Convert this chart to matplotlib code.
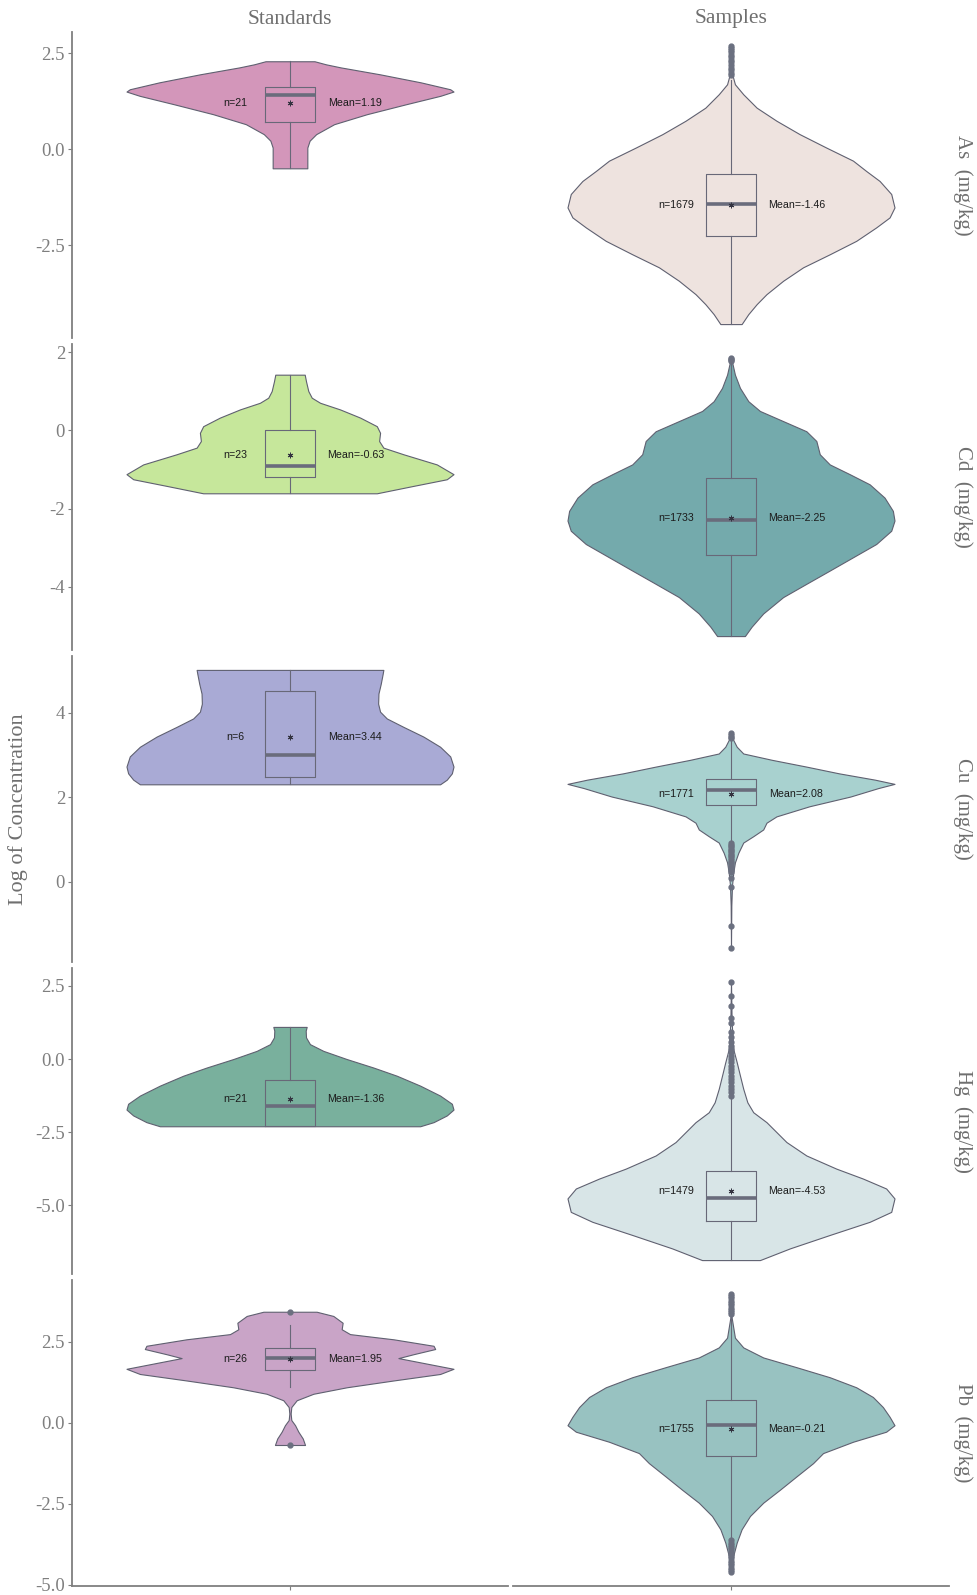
import matplotlib.pyplot as plt

# facet layout: rows are elements, columns are groups
elements = ["As", "Cd", "Cu", "Hg", "Pb"]
groups = ["Standards", "Samples"]
row_ticks = [[-2.5, 0.0, 2.5], [-4, -2, 0, 2], [0, 2, 4],
             [-5.0, -2.5, 0.0, 2.5], [-5.0, -2.5, 0.0, 2.5]]
tick_fmt = ["%.1f", "%d", "%d", "%.1f", "%.1f"]

std_colors = ["#d396ba", "#c6e79b", "#a9aad5", "#79b09d", "#c9a4c7"]
samp_colors = ["#eee3df", "#74aaac", "#a8d1cf", "#d8e5e7", "#98c2c1"]

# violin outlines: log value and relative half width (1 = widest point)
as_std_y = [2.29, 2.21, 2.13, 1.95, 1.74, 1.56, 1.50, 1.39, 1.17, 0.91, 0.65, 0.39, 0.22, 0.04, -0.22, -0.50]
as_std_w = [0.15, 0.22, 0.31, 0.55, 0.80, 0.98, 1.00, 0.92, 0.71, 0.47, 0.27, 0.16, 0.12, 0.106, 0.106, 0.106]
as_smp_y = [2.69, 2.20, 1.91, 1.69, 1.43, 1.08, 0.74, 0.39, 0.04, -0.30, -0.57, -0.83, -1.17, -1.52,
            -1.78, -2.04, -2.39, -2.74, -3.08, -3.43, -3.78, -4.04, -4.30, -4.56]
as_smp_w = [0.0, 0.005, 0.01, 0.024, 0.075, 0.157, 0.278, 0.42, 0.583, 0.746, 0.827, 0.909, 0.98, 1.00,
            0.97, 0.888, 0.766, 0.604, 0.441, 0.319, 0.217, 0.157, 0.106, 0.065]

cd_std_y = [1.43, 1.26, 1.01, 0.84, 0.71, 0.54, 0.33, 0.11, -0.06, -0.27, -0.44, -0.61, -0.87, -1.12, -1.25, -1.42, -1.61]
cd_std_w = [0.09, 0.098, 0.112, 0.133, 0.184, 0.306, 0.429, 0.531, 0.551, 0.545, 0.571, 0.694, 0.898, 1.00, 0.959, 0.755, 0.531]
cd_smp_y = [1.86, 1.69, 1.43, 1.09, 0.75, 0.50, 0.24, -0.02, -0.27, -0.61, -0.87, -1.12, -1.38, -1.72,
            -2.06, -2.31, -2.57, -2.91, -3.25, -3.59, -3.93, -4.27, -4.69, -5.03, -5.27]
cd_smp_w = [0.0, 0.01, 0.024, 0.055, 0.106, 0.177, 0.319, 0.461, 0.522, 0.543, 0.604, 0.726, 0.848, 0.939,
            0.99, 1.00, 0.98, 0.888, 0.746, 0.604, 0.461, 0.319, 0.197, 0.126, 0.085]

cu_std_y = [5.02, 4.93, 4.69, 4.46, 4.22, 4.03, 3.87, 3.67, 3.44, 3.20, 2.97, 2.73, 2.57, 2.42, 2.31]
cu_std_w = [0.571, 0.567, 0.555, 0.541, 0.539, 0.551, 0.592, 0.694, 0.816, 0.918, 0.98, 1.00, 0.99, 0.959, 0.918]
cu_smp_y = [3.52, 3.36, 3.20, 3.04, 2.89, 2.73, 2.57, 2.42, 2.32, 2.22, 2.02, 1.79, 1.55, 1.40, 1.24,
            1.08, 0.93, 0.69, 0.46, 0.22, -0.09, -0.56, -1.57]
cu_smp_w = [0.0, 0.014, 0.035, 0.075, 0.25, 0.46, 0.66, 0.88, 1.00, 0.90, 0.73, 0.48, 0.278, 0.217, 0.197,
            0.136, 0.075, 0.045, 0.024, 0.014, 0.006, 0.002, 0.0]

hg_std_y = [1.10, 0.97, 0.74, 0.51, 0.28, 0.00, -0.29, -0.57, -0.91, -1.25, -1.53, -1.73, -1.93, -2.16, -2.30]
hg_std_w = [0.102, 0.096, 0.098, 0.122, 0.204, 0.347, 0.51, 0.653, 0.796, 0.918, 0.99, 1.00, 0.959, 0.878, 0.796]
hg_smp_y = [2.64, 1.25, 0.34, -0.11, -0.57, -1.02, -1.48, -1.82, -2.16, -2.50, -2.84, -3.30, -3.75,
            -4.09, -4.43, -4.77, -5.23, -5.57, -6.02, -6.48, -6.88]
hg_smp_w = [0.0, 0.004, 0.014, 0.035, 0.055, 0.075, 0.10, 0.136, 0.217, 0.278, 0.339, 0.461, 0.644,
            0.807, 0.949, 1.00, 0.98, 0.848, 0.604, 0.36, 0.177]

pb_std_y = [3.42, 3.29, 3.08, 2.88, 2.73, 2.57, 2.37, 2.27, 2.11, 1.99, 1.86, 1.66, 1.50, 1.30, 1.09,
            0.89, 0.69, 0.48, 0.28, 0.08, -0.08, -0.28, -0.49, -0.69]
pb_std_w = [0.163, 0.265, 0.322, 0.316, 0.367, 0.633, 0.878, 0.888, 0.755, 0.663, 0.796, 1.00, 0.918, 0.633, 0.347,
            0.143, 0.041, 0.008, 0.004, 0.008, 0.031, 0.051, 0.078, 0.092]
pb_smp_y = [3.97, 3.24, 2.93, 2.62, 2.32, 2.01, 1.71, 1.40, 1.09, 0.79, 0.48, 0.18, -0.08, -0.28, -0.59,
            -0.94, -1.25, -1.66, -2.07, -2.47, -2.88, -3.29, -3.70, -4.10, -4.61]
pb_smp_w = [0.0, 0.004, 0.014, 0.024, 0.075, 0.197, 0.40, 0.604, 0.766, 0.868, 0.929, 0.97, 1.00, 0.949, 0.746,
            0.563, 0.502, 0.40, 0.299, 0.197, 0.116, 0.065, 0.035, 0.014, 0.0]

std_profiles = [(as_std_y, as_std_w), (cd_std_y, cd_std_w), (cu_std_y, cu_std_w),
                (hg_std_y, hg_std_w), (pb_std_y, pb_std_w)]
smp_profiles = [(as_smp_y, as_smp_w), (cd_smp_y, cd_smp_w), (cu_smp_y, cu_smp_w),
                (hg_smp_y, hg_smp_w), (pb_smp_y, pb_smp_w)]

# boxplot summaries (log scale)
std_n = [21, 23, 6, 21, 26]
std_mean = [1.19, -0.63, 3.44, -1.36, 1.95]
std_q1 = [0.70, -1.19, 2.49, -2.30, 1.63]
std_med = [1.40, -0.90, 3.00, -1.59, 1.98]
std_q3 = [1.62, 0.01, 4.52, -0.72, 2.30]
std_wlo = [-0.50, -1.61, 2.31, -2.30, 1.11]
std_whi = [2.29, 1.43, 5.02, 1.10, 3.01]
std_out = [[], [], [], [], [3.42, -0.69]]

smp_n = [1679, 1733, 1771, 1479, 1755]
smp_mean = [-1.46, -2.25, 2.08, -4.53, -0.21]
smp_q1 = [-2.26, -3.20, 1.83, -5.54, -1.03]
smp_med = [-1.43, -2.29, 2.17, -4.74, -0.07]
smp_q3 = [-0.65, -1.23, 2.43, -3.83, 0.71]
smp_wlo = [-4.56, -5.27, 0.96, -6.88, -3.60]
smp_whi = [1.80, 1.73, 3.36, -1.27, 3.32]
smp_out = [
    [2.69, 2.64, 2.58, 2.52, 2.46, 2.40, 2.33, 2.26, 2.19, 2.12, 2.05, 1.98, 1.92],
    [1.86, 1.83, 1.80, 1.77],
    [3.52, 3.48, 3.44, 3.40, 0.93, 0.88, 0.84, 0.80, 0.76, 0.72, 0.68, 0.64, 0.60, 0.56, 0.52,
     0.48, 0.44, 0.40, 0.36, 0.32, 0.28, 0.24, 0.10, -0.13, -1.04, -1.57],
    [2.64, 2.16, 1.82, 1.42, 1.25, 0.91, 0.74, 0.57, 0.45, 0.34, 0.23, 0.11, 0.0, -0.11, -0.23,
     -0.34, -0.45, -0.57, -0.68, -0.80, -0.91, -1.02, -1.14, -1.25],
    [3.97, 3.90, 3.83, 3.76, 3.69, 3.62, 3.55, 3.48, 3.41, 3.35, -3.63, -3.70, -3.77, -3.84, -3.91,
     -3.98, -4.05, -4.12, -4.19, -4.26, -4.33, -4.40, -4.47, -4.54, -4.61],
]

W, H = 977, 1595
fig = plt.figure(figsize=(W / 100, H / 100), dpi=100)
col_x = [72, 513]
col_w = 436
row_h = 306
grey = "#7f7f7f"
line_c = "#686878"
serif = ["Liberation Serif", "DejaVu Serif"]
sans = ["Liberation Sans", "DejaVu Sans"]


def draw_cell(ax, prof, color, stats, n, mean):
    ys, ws = prof
    left = [1 - 0.45 * w for w in ws]
    right = [1 + 0.45 * w for w in ws]
    ax.fill_betweenx(ys, left, right, facecolor=color, edgecolor="#5f6070", linewidth=0.8, zorder=1)
    ax.bxp([stats], positions=[1], widths=0.14, showcaps=False, showmeans=True, patch_artist=False,
           boxprops=dict(color=line_c, linewidth=0.8),
           whiskerprops=dict(color=line_c, linewidth=0.8),
           medianprops=dict(color="#6a6c7c", linewidth=2.6),
           flierprops=dict(marker="o", markersize=3.5, markerfacecolor="#6b7080",
                           markeredgecolor="#6b7080", linestyle="none"),
           meanprops=dict(marker=(6, 2, 0), markersize=4, markeredgecolor="#333340",
                          markeredgewidth=0.7, linestyle="none"),
           zorder=3)
    ax.text(0.85, mean, "n=%d" % n, ha="center", va="center", fontsize=7.7,
            color="#1c1c1c", family=sans, zorder=4)
    ax.text(1.18, mean, "Mean=%.2f" % mean, ha="center", va="center", fontsize=7.7,
            color="#1c1c1c", family=sans, zorder=4)


for r, el in enumerate(elements):
    top = 32 + r * 312
    # shared y range for the row, padded by 5%
    vals = std_profiles[r][0] + smp_profiles[r][0] + std_out[r] + smp_out[r]
    lo, hi = min(vals), max(vals)
    pad = (hi - lo) * 0.05
    for c in range(2):
        ax = fig.add_axes([col_x[c] / W, 1 - (top + row_h) / H, col_w / W, row_h / H])
        if c == 0:
            stats = dict(med=std_med[r], q1=std_q1[r], q3=std_q3[r], whislo=std_wlo[r],
                         whishi=std_whi[r], fliers=std_out[r], mean=std_mean[r])
            draw_cell(ax, std_profiles[r], std_colors[r], stats, std_n[r], std_mean[r])
        else:
            stats = dict(med=smp_med[r], q1=smp_q1[r], q3=smp_q3[r], whislo=smp_wlo[r],
                         whishi=smp_whi[r], fliers=smp_out[r], mean=smp_mean[r])
            draw_cell(ax, smp_profiles[r], samp_colors[r], stats, smp_n[r], smp_mean[r])
        ax.set_xlim(0.4, 1.6)
        ax.set_ylim(lo - pad, hi + pad)
        ax.set_facecolor("none")
        for s in ["top", "right"]:
            ax.spines[s].set_visible(False)
        ax.spines["left"].set_visible(c == 0)
        ax.spines["bottom"].set_visible(r == len(elements) - 1)
        for s in ["left", "bottom"]:
            ax.spines[s].set_color(grey)
            ax.spines[s].set_linewidth(1.3)
        if c == 0:
            ax.set_yticks(row_ticks[r])
            ax.set_yticklabels([tick_fmt[r] % t for t in row_ticks[r]], family=serif,
                               fontsize=13.5, color=grey)
            ax.tick_params(axis="y", length=3, width=0.8, color=grey, pad=2)
        else:
            ax.set_yticks([])
        if r == len(elements) - 1:
            ax.set_xticks([1])
            ax.set_xticklabels([""])
            ax.tick_params(axis="x", length=3, width=0.8, color=grey)
        else:
            ax.set_xticks([])
    # strip label on the right of each row
    fig.text(963 / W, 1 - (top + row_h / 2) / H, "%s  (mg/kg)" % el, rotation=-90,
             ha="center", va="center", fontsize=15, color="#6f6f6f", family=serif)

for c, g in enumerate(groups):
    fig.text((col_x[c] + col_w / 2) / W, 1 - 19 / H, g, ha="center", va="center",
             fontsize=15.5, color="#6f6f6f", family=serif)

fig.text(18 / W, 1 - 809 / H, "Log of Concentration", rotation=90, ha="center", va="center",
         fontsize=16, color="#6f6f6f", family=serif)

fig.savefig("out.png", dpi=100, facecolor="white")
